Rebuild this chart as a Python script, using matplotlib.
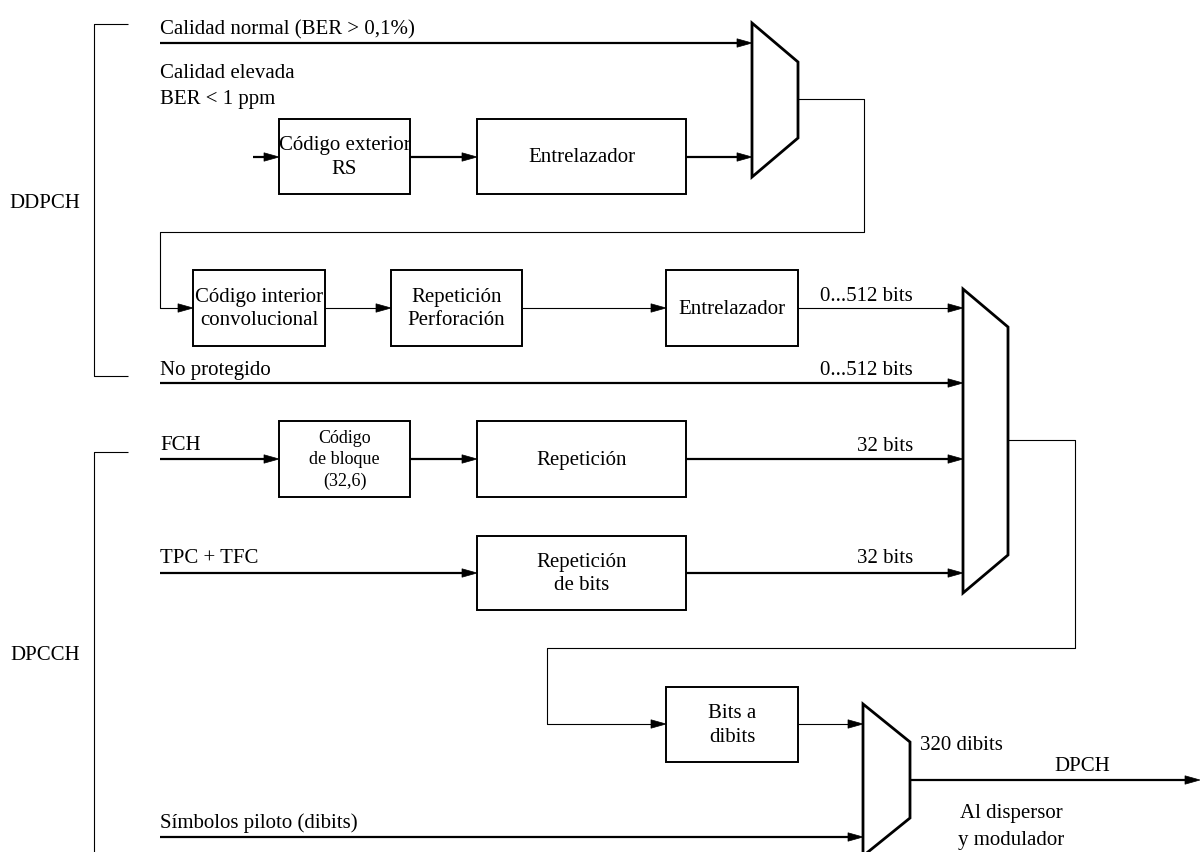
import matplotlib.pyplot as plt
from matplotlib.patches import Polygon, Rectangle

# diagram layout, in pixel units of the 1200x852 picture (y grows downwards)
box_labels = ["Código exterior\nRS", "Entrelazador", "Código interior\nconvolucional",
              "Repetición\nPerforación", "Entrelazador", "Código\nde bloque\n(32,6)",
              "Repetición", "Repetición\nde bits", "Bits a\ndibits"]
box_x0 = [279, 477, 193, 391, 666, 279, 477, 477, 666]
box_x1 = [410, 686, 325, 522, 798, 410, 686, 686, 798]
box_y0 = [119, 119, 270, 270, 270, 421, 421, 536, 687]
box_y1 = [194, 194, 346, 346, 346, 497, 497, 610, 762]

mux_left = [752, 963, 863]
mux_right = [798, 1008, 910]
mux_top = [23, 289, 704]
mux_bottom = [177, 593, 856]
mux_slope = [39, 38, 38]

# wires: (points, linewidth, arrow at end)
wires = [
    ([(160, 43), (752, 43)], 1.6, True),
    ([(253, 157), (279, 157)], 1.6, True),
    ([(410, 157), (477, 157)], 1.6, True),
    ([(686, 157), (752, 157)], 1.6, True),
    ([(798, 99), (864, 99), (864, 232), (160, 232), (160, 308), (193, 308)], 0.8, True),
    ([(325, 308), (391, 308)], 0.8, True),
    ([(522, 308), (666, 308)], 0.8, True),
    ([(798, 308), (963, 308)], 0.8, True),
    ([(160, 383), (963, 383)], 1.6, True),
    ([(160, 459), (279, 459)], 1.6, True),
    ([(410, 459), (477, 459)], 1.6, True),
    ([(686, 459), (963, 459)], 1.6, True),
    ([(160, 573), (477, 573)], 1.6, True),
    ([(686, 573), (963, 573)], 1.6, True),
    ([(1008, 440), (1075, 440), (1075, 648), (547, 648), (547, 724), (666, 724)], 0.8, True),
    ([(798, 724), (863, 724)], 0.8, True),
    ([(160, 837), (863, 837)], 1.6, True),
    ([(910, 780), (1200, 780)], 1.6, True),
    ([(128, 24), (94, 24), (94, 376), (128, 376)], 0.8, False),
    ([(128, 452), (94, 452), (94, 870)], 0.8, False),
]

# free text: (text, x, y, ha, va)
labels = [
    ("Calidad normal (BER > 0,1%)", 160, 34, "left", "baseline"),
    ("Calidad elevada", 160, 78, "left", "baseline"),
    ("BER < 1 ppm", 160, 104, "left", "baseline"),
    ("No protegido", 160, 375, "left", "baseline"),
    ("FCH", 160, 450, "left", "baseline"),
    ("TPC + TFC", 160, 563, "left", "baseline"),
    ("Símbolos piloto (dibits)", 160, 828, "left", "baseline"),
    ("0...512 bits", 913, 301, "right", "baseline"),
    ("0...512 bits", 913, 375, "right", "baseline"),
    ("32 bits", 913, 451, "right", "baseline"),
    ("32 bits", 913, 563, "right", "baseline"),
    ("320 dibits", 920, 750, "left", "baseline"),
    ("DPCH", 1110, 771, "right", "baseline"),
    ("Al dispersor", 1011, 818, "center", "baseline"),
    ("y modulador", 1011, 845, "center", "baseline"),
    ("DDPCH", 45, 203, "center", "center"),
    ("DPCCH", 45, 655, "center", "center"),
]

plt.rcParams['font.family'] = ['Liberation Serif', 'DejaVu Serif']

fig = plt.figure(figsize=(12, 8.52), dpi=100)
ax = fig.add_axes([0, 0, 1, 1])
ax.set_xlim(0, 1200)
ax.set_ylim(852, 0)
ax.axis('off')


def arrow_head(x, y, lw):
    # all arrows in this diagram point to the right
    hl, hw = 15, 4.2
    ax.add_patch(Polygon([(x, y), (x - hl, y - hw), (x - hl, y + hw)],
                         closed=True, fc='black', ec='black', lw=0.5, zorder=4))


for pts, lw, head in wires:
    xs = [p[0] for p in pts]
    ys = [p[1] for p in pts]
    if head:
        xs[-1] = xs[-1] - 10
    ax.plot(xs, ys, color='black', lw=lw, solid_capstyle='butt', zorder=2)
    if head:
        arrow_head(pts[-1][0], pts[-1][1], lw)

for i in range(len(box_labels)):
    x0, x1, y0, y1 = box_x0[i], box_x1[i], box_y0[i], box_y1[i]
    ax.add_patch(Rectangle((x0, y0), x1 - x0, y1 - y0, fc='white', ec='black',
                           lw=1.4, zorder=3))
    fs = 13 if box_labels[i].count('\n') == 2 else 15
    ls = 1.36 if fs == 13 else 1.3
    ax.text((x0 + x1) / 2, (y0 + y1) / 2 + 1, box_labels[i], ha='center', va='center',
            fontsize=fs, linespacing=ls, zorder=5)

for i in range(len(mux_left)):
    l, r, t, b, s = mux_left[i], mux_right[i], mux_top[i], mux_bottom[i], mux_slope[i]
    ax.add_patch(Polygon([(l, t), (r, t + s), (r, b - s), (l, b)], closed=True,
                         fc='white', ec='black', lw=2.0, zorder=3))

for txt, x, y, ha, va in labels:
    ax.text(x, y, txt, ha=ha, va=va, fontsize=15, zorder=5)

fig.savefig('out.png', dpi=100)
